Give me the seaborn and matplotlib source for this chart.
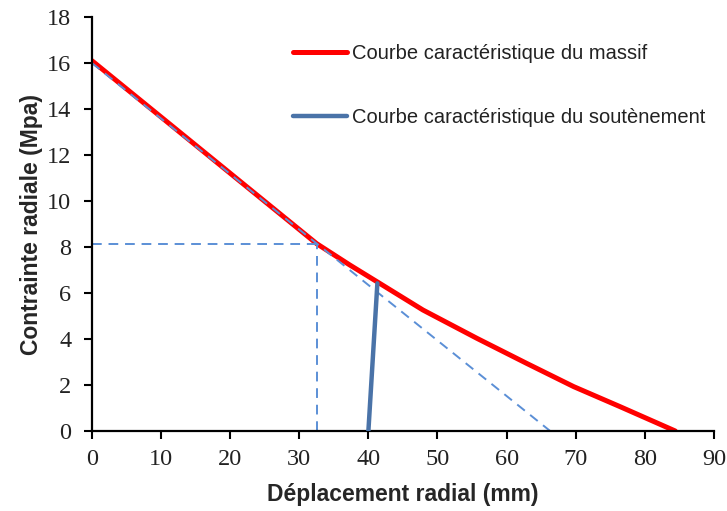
import matplotlib
matplotlib.use("Agg")
import matplotlib.pyplot as plt
import pandas as pd
import seaborn as sns

# Courbe caractéristique du massif
massif_u = [0, 32.5, 37.3, 41.2, 47.9, 55.7, 62.9, 69.7, 76.4, 84.4]
massif_p = [16.1, 8.15, 7.22, 6.5, 5.26, 4.03, 2.94, 1.93, 1.06, 0.0]

# Courbe caractéristique du soutènement
sout_u = [40.0, 41.3]
sout_p = [0.0, 6.42]

# Construction lines (dashed)
elastic_u = [0, 66.3]
elastic_p = [16.0, 0.0]
horiz_u = [0, 32.5]
horiz_p = [8.15, 8.15]
vert_u = [32.5, 32.5]
vert_p = [0.0, 8.15]

massif_label = "Courbe caractéristique du massif"
sout_label = "Courbe caractéristique du soutènement"

sns.set_theme(style="ticks")
plt.rcParams["font.family"] = ["Liberation Sans", "DejaVu Sans"]

fig = plt.figure(figsize=(7.27, 5.11), dpi=100)
ax = fig.add_axes([0.1265, 0.1566, 0.8555, 0.81])

massif = pd.DataFrame({"u": massif_u, "p": massif_p})
sout = pd.DataFrame({"u": sout_u, "p": sout_p})
sns.lineplot(data=massif, x="u", y="p", ax=ax, color="#ff0000", lw=3.6,
             sort=False, estimator=None, label=massif_label)
sns.lineplot(data=sout, x="u", y="p", ax=ax, color="#4a73a8", lw=3.2,
             sort=False, estimator=None, label=sout_label, zorder=3)

# dashed construction lines drawn over the massif curve, as in the original
dash_col = "#5b8fd6"
for u, p in [(elastic_u, elastic_p), (horiz_u, horiz_p), (vert_u, vert_p)]:
    sns.lineplot(x=u, y=p, ax=ax, color=dash_col, lw=1.4, linestyle=(0, (5, 3.5)),
                 sort=False, estimator=None, zorder=2.5)

ax.set_xlim(0, 90)
ax.set_ylim(0, 18)
ax.set_xticks(range(0, 91, 10))
ax.set_yticks(range(0, 19, 2))
sns.despine(ax=ax)
for s in ("left", "bottom"):
    ax.spines[s].set_color("black")
    ax.spines[s].set_linewidth(1.6)
ax.tick_params(direction="out", length=6, width=1.5, color="black",
               labelsize=17.5, labelcolor="#222222")
ax.tick_params(axis="x", pad=7)
ax.tick_params(axis="y", pad=9)
for lab in ax.get_xticklabels() + ax.get_yticklabels():
    lab.set_family(["Liberation Serif", "DejaVu Serif"])

ax.set_xlabel("Déplacement radial (mm)", fontsize=16.5, fontweight="bold",
              labelpad=9)
ax.set_ylabel("Contrainte radiale (Mpa)", fontsize=16.5, fontweight="bold",
              labelpad=3)

ax.legend(loc="upper left", bbox_to_anchor=(0.323, 0.935), frameon=False,
          borderpad=0, borderaxespad=0, fontsize=14.5, handlelength=2.7,
          handletextpad=0.25, labelspacing=2.25, labelcolor="#222222")

fig.savefig("out.png", dpi=100)
